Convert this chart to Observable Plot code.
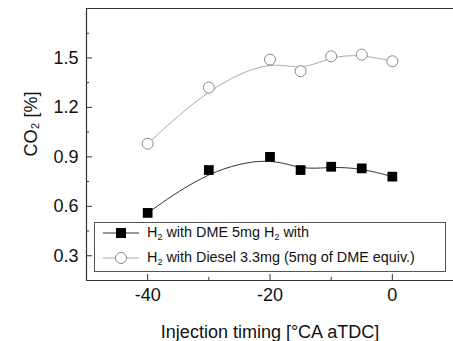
<!DOCTYPE html>
<html>
<head>
<meta charset="utf-8">
<script src="https://cdn.jsdelivr.net/npm/d3@7"></script>
<script src="https://cdn.jsdelivr.net/npm/@observablehq/plot@0.6"></script>
<style>
  body { margin: 0; background: #fff; font-family: "Liberation Sans", Arial, sans-serif; }
  #wrap { position: relative; width: 453px; height: 341px; overflow: hidden; }
  #legend { position: absolute; left: 94px; top: 222px; width: 352px; height: 50px;
            border: 1px solid #555; background: #fff; box-sizing: border-box;
            font-size: 14.4px; color: #111; }
  .row { position: absolute; left: 0; height: 20px; display: flex; align-items: center; }
  .row svg { margin-left: 8px; margin-right: 8px; }
  sub { font-size: 9px; vertical-align: -3px; }
</style>
</head>
<body>
<div id="wrap"></div>
<script>
const timing = [-40, -30, -20, -15, -10, -5, 0];
const dmeCO2 = [0.56, 0.82, 0.90, 0.82, 0.84, 0.83, 0.78];
const dieselCO2 = [0.98, 1.32, 1.49, 1.42, 1.51, 1.52, 1.48];
const seriesNames = ["H\u2082 with DME 5mg H\u2082 with", "H\u2082 with Diesel 3.3mg (5mg of DME equiv.)"];
const xMajor = [-40, -20, 0];
const xMinor = [-30, -10];
const yMajor = [0.3, 0.6, 0.9, 1.2, 1.5];
const yMinor = [0.45, 0.75, 1.05, 1.35, 1.65];
const xLabel = "Injection timing [\u00B0CA aTDC]";
const yLabel = "CO\u2082 [%]";

const dme = timing.map((t, i) => ({t, v: dmeCO2[i]}));
const diesel = timing.map((t, i) => ({t, v: dieselCO2[i]}));

const axisColor = "#333";
const chart = Plot.plot({
  width: 453, height: 341,
  marginLeft: 86, marginRight: 0, marginTop: 8, marginBottom: 61,
  style: {fontFamily: "Liberation Sans, Arial, sans-serif", fontSize: "18px", color: "#111", background: "#fff"},
  x: {domain: [-50, 10]},
  y: {domain: [0.15, 1.8]},
  marks: [
    Plot.ruleX([-50], {stroke: axisColor, strokeWidth: 1.2}),
    Plot.ruleY([0.15, 1.8], {stroke: axisColor, strokeWidth: 1.2}),
    Plot.axisX({ticks: xMajor, tickSize: -6, tickPadding: 14, fontSize: 18, stroke: axisColor, tickFormat: d => String(d), label: null}),
    Plot.axisX({ticks: xMinor, tickSize: -3, tickFormat: () => "", stroke: axisColor, label: null}),
    Plot.axisY({ticks: yMajor, tickSize: -6, tickPadding: 14, fontSize: 18, stroke: axisColor, tickFormat: d3.format(".1f"), label: null}),
    Plot.axisY({ticks: yMinor, tickSize: -3, tickFormat: () => "", stroke: axisColor, label: null}),
    Plot.line(diesel, {x: "t", y: "v", curve: "basis", stroke: "#aaa", strokeWidth: 1}),
    Plot.line(dme, {x: "t", y: "v", curve: "basis", stroke: "#333", strokeWidth: 1}),
    Plot.dot(diesel, {x: "t", y: "v", r: 5.5, stroke: "#888", fill: "#fff", strokeWidth: 1}),
    Plot.dot(dme, {x: "t", y: "v", r: 5.5, symbol: "square", fill: "#000"}),
    Plot.text([xLabel], {text: d => d, frameAnchor: "bottom", dy: 57, lineAnchor: "bottom", fontSize: 18, fill: "#111"}),
    Plot.text([yLabel], {text: d => d, frameAnchor: "left", rotate: -90, dx: -55, dy: 12, fontSize: 18, fill: "#111"})
  ]
});
const wrap = document.getElementById("wrap");
wrap.appendChild(chart);

const legend = document.createElement("div");
legend.id = "legend";
const sw1 = '<svg width="36" height="14"><line x1="0" y1="7" x2="36" y2="7" stroke="#333"/><rect x="13" y="2" width="10" height="10" fill="#000"/></svg>';
const sw2 = '<svg width="36" height="14"><line x1="0" y1="7" x2="36" y2="7" stroke="#aaa"/><circle cx="18" cy="7" r="5.5" fill="#fff" stroke="#888"/></svg>';
const fmt = s => s.replace(/\u2082/g, "<sub>2</sub>");
legend.innerHTML =
  `<div class="row" style="top:0px">${sw1}<span>${fmt(seriesNames[0])}</span></div>` +
  `<div class="row" style="top:25px">${sw2}<span>${fmt(seriesNames[1])}</span></div>`;
wrap.appendChild(legend);
</script>
</body>
</html>
